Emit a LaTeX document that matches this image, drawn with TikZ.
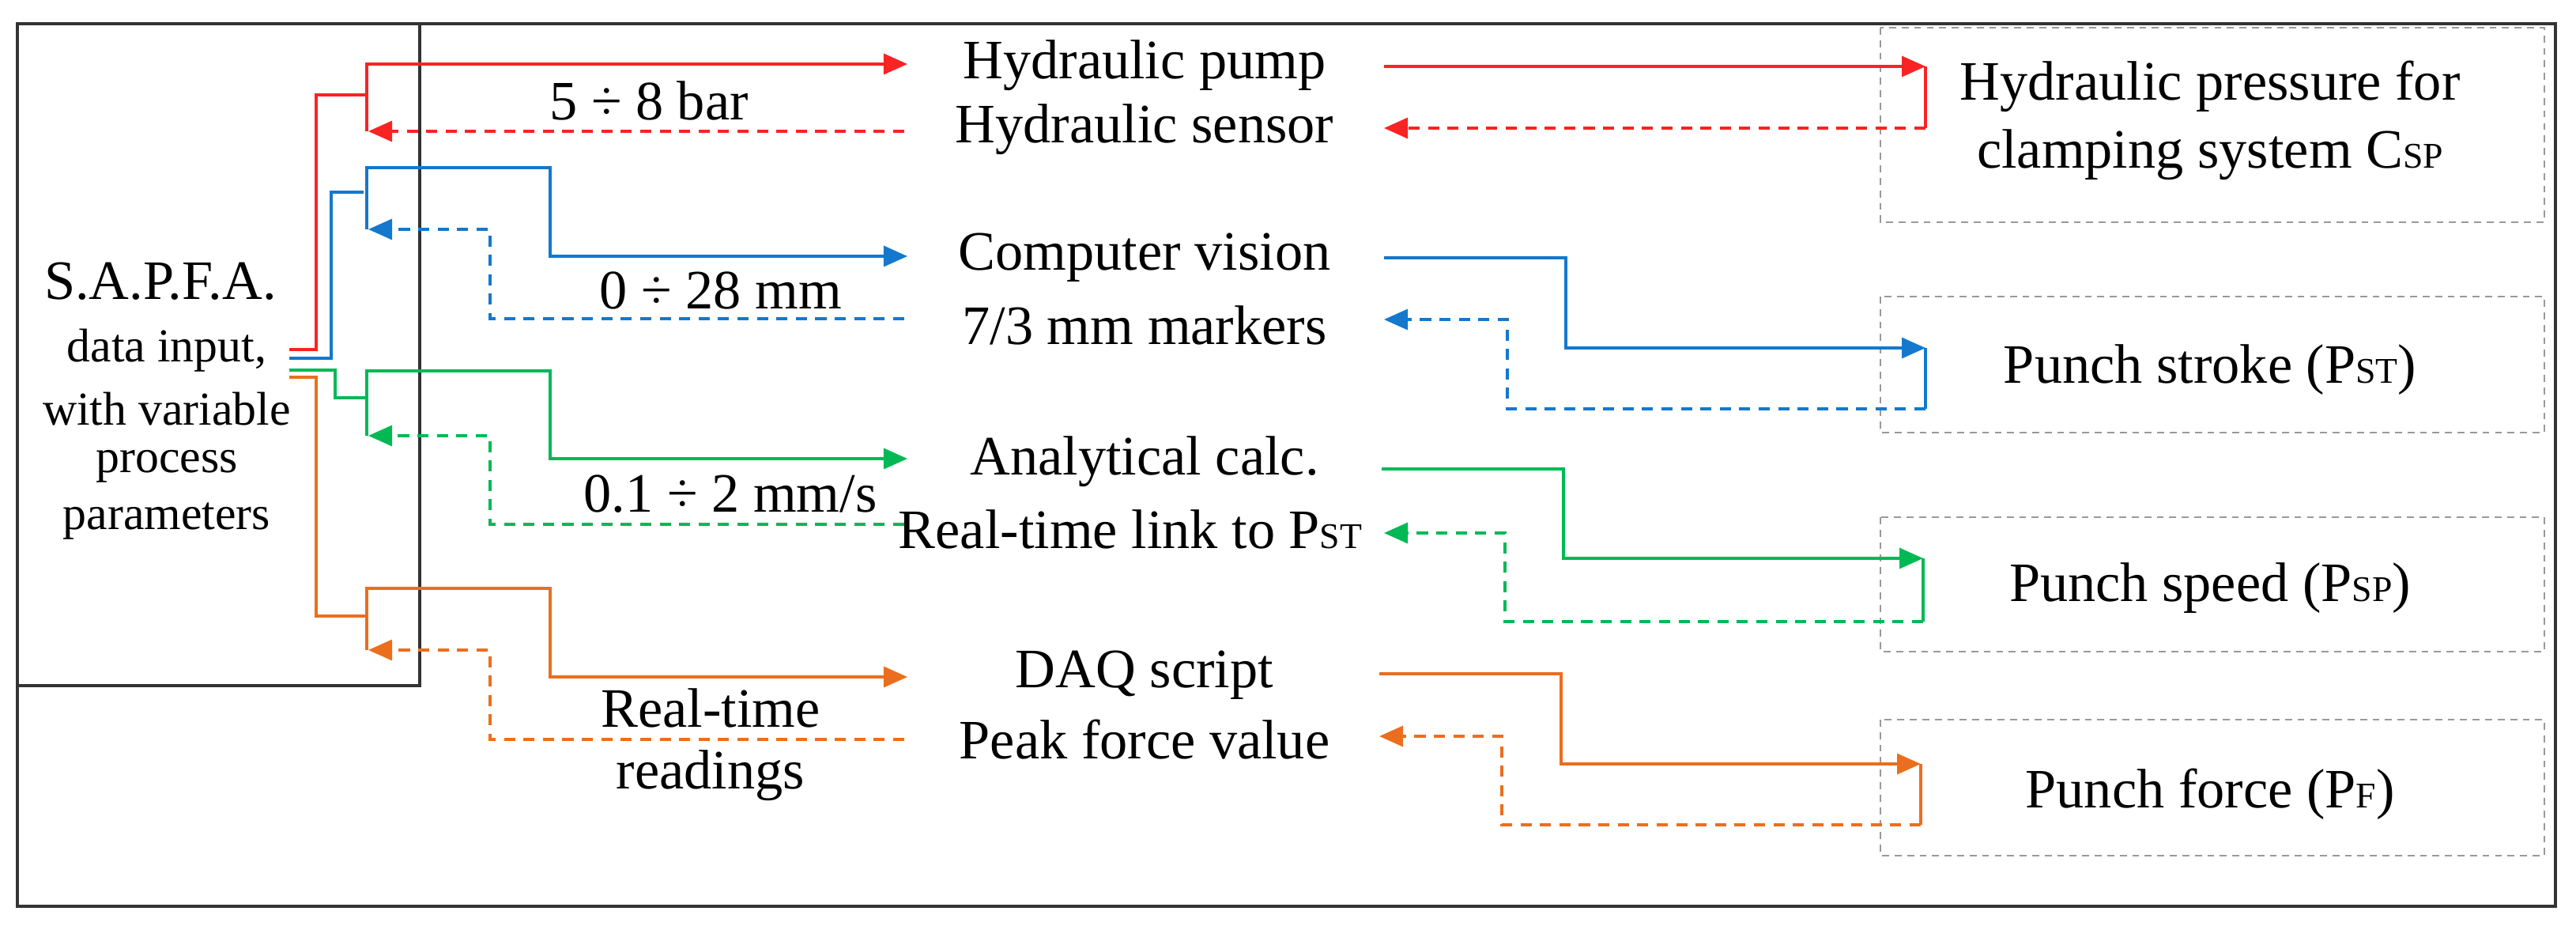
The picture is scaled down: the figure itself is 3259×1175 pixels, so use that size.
\documentclass[tikz,border=0pt]{standalone}
\usepackage{fontspec}
\setmainfont{Liberation Serif}
\usetikzlibrary{arrows.meta}
\definecolor{cr}{RGB}{250,35,35}
\definecolor{cb}{RGB}{20,120,205}
\definecolor{cg}{RGB}{0,185,85}
\definecolor{co}{RGB}{235,110,30}
\begin{document}
\begin{tikzpicture}[x=0.01cm,y=-0.01cm,
  txt/.style={inner sep=0pt,font=\fontsize{20}{24}\selectfont},
  stxt/.style={inner sep=0pt,font=\fontsize{17}{20}\selectfont},
  ln/.style={line width=0.9pt},
  dl/.style={line width=0.9pt,dash pattern=on 4pt off 3pt},
  tip/.style={-{Triangle[length=0.3cm,width=0.26cm]}},
  gbox/.style={draw=gray!80,line width=0.8pt,dash pattern=on 2.5pt off 2pt}]
\newcommand{\sub}[1]{{\fontsize{13}{13}\selectfont #1}}
\useasboundingbox (0,0) rectangle (3259,1175);
\draw[line width=1pt,black!80] (22,30) rectangle (3233,1146);
\draw[line width=1pt,black!80] (22,30) rectangle (531,867);
% SAPFA text
\node[txt] (sa1) at (203,356) {S.A.P.F.A.};
\node[stxt] (sa2) at (211,443) {data input,};
\node[stxt] (sa3) at (211,517) {with variable};
\node[stxt] (sa4) at (211,590) {process};
\node[stxt] (sa5) at (211,659) {parameters};
% middle texts
\node[txt] (m1) at (1448,83) {Hydraulic pump};
\node[txt] (m2) at (1448,164) {Hydraulic sensor};
\node[txt] (m3) at (1448,326) {Computer vision};
\node[txt] (m4) at (1448,411) {7/3 mm markers};
\node[txt] (m5) at (1448,584) {Analytical calc.};
\node[txt] (m6) at (1430,669) {Real-time link to P\sub{ST}};
\node[txt] (m7) at (1448,854) {DAQ script};
\node[txt] (m8) at (1448,935) {Peak force value};
% labels
\node[txt] (l1) at (821,127) {5 ÷ 8 bar};
\node[txt] (l2) at (912,367) {0 ÷ 28 mm};
\node[txt] (l3) at (924,625) {0.1 ÷ 2 mm/s};
\node[txt] (l4) at (899,895) {Real-time};
\node[txt] (l5) at (899,981) {readings};
% right boxes
\draw[gbox] (2379,35) rectangle (3219,281);
\draw[gbox] (2379,375) rectangle (3219,547);
\draw[gbox] (2379,654) rectangle (3219,824);
\draw[gbox] (2379,910) rectangle (3219,1082);
\node[txt] (r1a) at (2796,109) {Hydraulic pressure for};
\node[txt] (r1b) at (2796,196) {clamping system C\sub{SP}};
\node[txt] (r2) at (2796,468) {Punch stroke (P\sub{ST})};
\node[txt] (r3) at (2796,744) {Punch speed (P\sub{SP})};
\node[txt] (r4) at (2796,1004) {Punch force (P\sub{F})};
% coordinates
\coordinate (s1) at (366,442); \coordinate (s2) at (366,453);
\coordinate (s3) at (366,468); \coordinate (s4) at (366,477);
\coordinate (a1) at (1148,81); \coordinate (b1) at (1144,166);
\coordinate (a2) at (1148,324); \coordinate (b2) at (1144,403);
\coordinate (a3) at (1148,580); \coordinate (b3) at (1144,663);
\coordinate (a4) at (1148,856); \coordinate (b4) at (1144,935);
\coordinate (c1) at (1751,84); \coordinate (d1) at (1751,162);
\coordinate (c2) at (1751,326); \coordinate (d2) at (1751,404);
\coordinate (c3) at (1748,593); \coordinate (d3) at (1751,674);
\coordinate (c4) at (1745,852); \coordinate (d4) at (1745,931);
\coordinate (e1) at (2436,84); \coordinate (f1) at (2436,162);
\coordinate (e2) at (2436,440); \coordinate (f2) at (2436,517);
\coordinate (e3) at (2433,706); \coordinate (f3) at (2433,786);
\coordinate (e4) at (2430,966); \coordinate (f4) at (2430,1043);
% red
\draw[ln,cr] (s1) -| (400,120) -- (464,120);
\draw[ln,cr,tip] (464,166) -- (464,81) -- (a1);
\draw[dl,cr,tip] (b1) -- (466,166);
\draw[ln,cr,tip] (c1) -- (e1);
\draw[ln,cr] (e1) -- (f1);
\draw[dl,cr,tip] (f1) -- (d1);
% blue
\draw[ln,cb] (s2) -| (419,243) -- (460,243);
\draw[ln,cb,tip] (464,290) -- (464,212) -- (696,212) -- (696,324) -- (a2);
\draw[dl,cb,tip] (b2) -- (620,403) -- (620,290) -- (466,290);
\draw[ln,cb,tip] (c2) -- (1981,326) -- (1981,440) -- (e2);
\draw[ln,cb] (e2) -- (f2);
\draw[dl,cb,tip] (f2) -- (1907,517) -- (1907,404) -- (d2);
% green
\draw[ln,cg] (s3) -| (424,503) -- (464,503);
\draw[ln,cg,tip] (464,551) -- (464,469) -- (696,469) -- (696,580) -- (a3);
\draw[dl,cg,tip] (b3) -- (620,663) -- (620,551) -- (466,551);
\draw[ln,cg,tip] (c3) -- (1978,593) -- (1978,706) -- (e3);
\draw[ln,cg] (e3) -- (f3);
\draw[dl,cg,tip] (f3) -- (1904,786) -- (1904,674) -- (d3);
% orange
\draw[ln,co] (s4) -| (400,779) -- (464,779);
\draw[ln,co,tip] (464,822) -- (464,744) -- (696,744) -- (696,856) -- (a4);
\draw[dl,co,tip] (b4) -- (620,935) -- (620,822) -- (466,822);
\draw[ln,co,tip] (c4) -- (1975,852) -- (1975,966) -- (e4);
\draw[ln,co] (e4) -- (f4);
\draw[dl,co,tip] (f4) -- (1900,1043) -- (1900,931) -- (d4);
\end{tikzpicture}
\end{document}
